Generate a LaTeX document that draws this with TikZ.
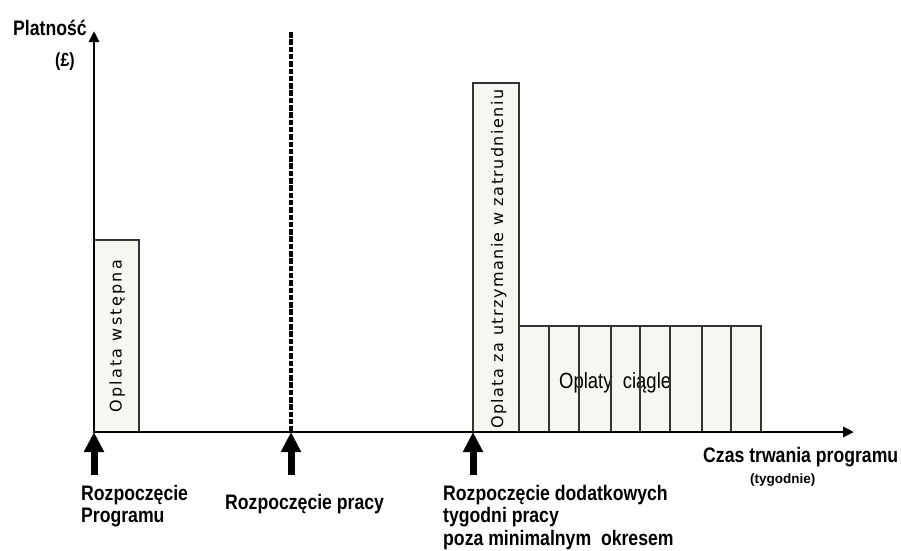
\documentclass[tikz,border=0pt]{standalone}
\usepackage{fontspec}
\setmainfont{Liberation Sans}
\newfontfamily\narrowfont[FakeStretch=0.84]{Liberation Sans}
\newfontfamily\spacedA[LetterSpace=14]{DejaVu Sans}
\newfontfamily\spacedB[LetterSpace=9]{DejaVu Sans}
\usetikzlibrary{arrows.meta}
\definecolor{boxfill}{HTML}{F7F6F2}
\definecolor{boxline}{HTML}{333333}
\tikzset{
  axis/.style={line width=2.8pt, -{Triangle[width=10pt,length=11pt]}},
  barfill/.style={fill=boxfill},
  barline/.style={draw=boxline, line width=1.3pt},
  marker/.style={line width=7pt, -{Triangle[width=19pt,length=20pt]}},
  lbl/.style={font=\narrowfont\bfseries\fontsize{21}{22}\selectfont, anchor=base west, inner sep=0pt},
  bartext/.style={rotate=90, anchor=base west, inner sep=0pt},
}
\begin{document}
\begin{tikzpicture}[x=1pt,y=-1pt]
\useasboundingbox (0,0) rectangle (901,550);
% bar fills
\fill[barfill] (94,240) rectangle (139,432);
\fill[barfill] (473,83) rectangle (519,432);
\fill[barfill] (519,326) rectangle (761,432);
% texts in bars
\node[bartext, font=\spacedA\fontsize{16}{17}\selectfont] (tw) at (121.5,413) {Oplata wstępna};
\node[bartext, font=\spacedB\fontsize{16}{17}\selectfont] (tu) at (503,429) {Oplata za utrzymanie w zatrudnieniu};
\node[anchor=base west, inner sep=0pt, font=\narrowfont\fontsize{22}{24}\selectfont] (tc) at (559,388) {Oplaty\ \ ciągle};
% bar outlines
\draw[barline] (94,240) rectangle (139,432);
\draw[barline] (473,83) rectangle (519,432);
\foreach \a/\b in {519/549,549/579,579/611,611/640,640/670,670/702,702/731,731/761}
  \draw[barline] (\a,326) rectangle (\b,432);
% dotted line
\draw[line width=3.5pt, dash pattern=on 5.5pt off 1.8pt] (291,32) -- (291,432);
% axes
\coordinate (O) at (94,432);
\coordinate (ytop) at (94,31);
\coordinate (xend) at (854,432);
\draw[axis] (O) -- (ytop);
\draw[axis] (O) -- (xend);
% markers
\coordinate (m1) at (94,475);
\coordinate (m1t) at (94,432);
\coordinate (m2) at (291,475);
\coordinate (m2t) at (291,432);
\coordinate (m3) at (473,475);
\coordinate (m3t) at (473,432);
\draw[marker] (m1) -- (m1t);
\draw[marker] (m2) -- (m2t);
\draw[marker] (m3) -- (m3t);
% labels
\node[lbl] (lp) at (13,35) {Platność};
\node[lbl, font=\narrowfont\bfseries\fontsize{19}{20}\selectfont] (lf) at (55,66) {(£)};
\node[lbl] (l1a) at (81,500) {Rozpoczęcie};
\node[lbl] (l1b) at (81,522) {Programu};
\node[lbl] (l2) at (225,509) {Rozpoczęcie pracy};
\node[lbl] (l3a) at (443,500) {Rozpoczęcie dodatkowych};
\node[lbl] (l3b) at (443,522.5) {tygodni pracy};
\node[lbl] (l3c) at (443,545) {poza minimalnym\ \ okresem};
\node[lbl] (lx) at (703,462) {Czas trwania programu};
\node[lbl, font=\bfseries\fontsize{13.5}{15}\selectfont] (ly) at (750,483) {(tygodnie)};
\end{tikzpicture}
\end{document}
